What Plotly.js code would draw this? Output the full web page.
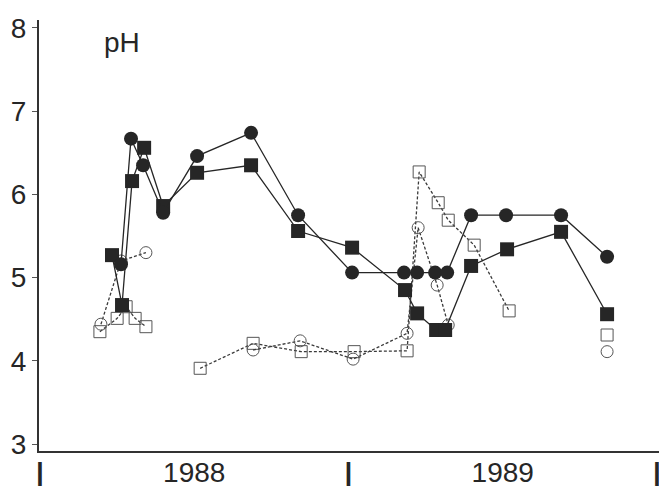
<!DOCTYPE html>
<html>
<head>
<meta charset="utf-8">
<script src="https://cdn.plot.ly/plotly-3.0.1.min.js"></script>
<style>
  html, body { margin: 0; padding: 0; background: #fff; }
  #chart { width: 659px; height: 486px; }
</style>
</head>
<body>
<div id="chart"></div>
<script>
// x = months since 1 Jan 1988
const tickVals = [0, 6, 12, 18, 24];
const tickText = ["<b>|</b>", "1988", "<b>|</b>", "1989", "<b>|</b>"];

// filled circles, solid line
const filledCircleX = [3.15, 3.54, 4.01, 4.79, 6.11, 8.21, 10.04, 12.14, 14.16, 14.67, 15.37, 15.84, 16.77, 18.13, 20.27, 22.06];
const filledCircleY = [5.16, 6.67, 6.35, 5.78, 6.46, 6.74, 5.75, 5.06, 5.06, 5.06, 5.06, 5.06, 5.75, 5.75, 5.75, 5.25];

// filled squares, solid line
const filledSquareX = [2.80, 3.19, 3.58, 4.05, 4.79, 6.11, 8.21, 10.04, 12.14, 14.20, 14.67, 15.41, 15.76, 16.77, 18.17, 20.27, 22.06];
const filledSquareY = [5.27, 4.67, 6.16, 6.56, 5.86, 6.26, 6.35, 5.56, 5.36, 4.85, 4.57, 4.37, 4.37, 5.14, 5.34, 5.55, 4.56];

// open circles, dashed line (null = gap)
const openCircleX = [2.37, 3.15, 4.12, null, 8.29, 10.12, 12.18, 14.28, 14.71, 15.45, 15.88, null, 22.06];
const openCircleY = [4.44, 5.20, 5.30, null, 4.13, 4.24, 4.02, 4.33, 5.60, 4.91, 4.43, null, 4.11];

// open squares, dashed line (null = gap)
const openSquareX = [2.33, 3.00, 3.35, 3.70, 4.12, null, 6.23, 8.29, 10.16, 12.22, 14.28, 14.75, 15.49, 15.88, 16.89, 18.25, null, 22.06];
const openSquareY = [4.35, 4.51, 4.65, 4.51, 4.41, null, 3.91, 4.21, 4.11, 4.11, 4.12, 6.27, 5.90, 5.69, 5.39, 4.60, null, 4.31];

const ink = "#262626";
const dashed = { color: "#3a3a3a", width: 1.3, dash: "3px,2px" };

const traces = [
  {
    x: openSquareX, y: openSquareY, type: "scatter", mode: "lines+markers",
    line: dashed,
    marker: { symbol: "square-open", size: 12, color: "#555", line: { width: 1, color: "#555" } },
    hoverinfo: "skip"
  },
  {
    x: openCircleX, y: openCircleY, type: "scatter", mode: "lines+markers",
    line: dashed,
    marker: { symbol: "circle-open", size: 12, color: "#555", line: { width: 1, color: "#555" } },
    hoverinfo: "skip"
  },
  {
    x: filledSquareX, y: filledSquareY, type: "scatter", mode: "lines+markers",
    line: { color: ink, width: 1.3 },
    marker: { symbol: "square", size: 14, color: ink },
    hoverinfo: "skip"
  },
  {
    x: filledCircleX, y: filledCircleY, type: "scatter", mode: "lines+markers",
    line: { color: ink, width: 1.3 },
    marker: { symbol: "circle", size: 14, color: ink },
    hoverinfo: "skip"
  }
];

const layout = {
  width: 659, height: 486,
  margin: { l: 39, r: 0, t: 20, b: 35, pad: 0 },
  paper_bgcolor: "#fff", plot_bgcolor: "#fff",
  showlegend: false,
  font: { family: "Liberation Sans, Arial, sans-serif", color: ink, size: 28 },
  xaxis: {
    range: [-0.04, 24.08],
    tickmode: "array", tickvals: tickVals, ticktext: tickText,
    ticks: "", showgrid: false, zeroline: false,
    showline: true, linecolor: "#333", linewidth: 2,
    tickfont: { size: 28, color: ink },
    ticklabelstandoff: -5,
    ticklabeloverflow: "allow",
    fixedrange: true
  },
  yaxis: {
    range: [2.916, 8.096],
    tickmode: "array", tickvals: [3, 4, 5, 6, 7, 8],
    ticks: "outside", ticklen: 5, tickwidth: 1, tickcolor: "#555",
    showgrid: false, zeroline: false,
    showline: true, linecolor: "#333", linewidth: 2,
    tickfont: { size: 28, color: ink },
    fixedrange: true
  },
  annotations: [{
    xref: "paper", yref: "paper", x: 0.1016, y: 0.947,
    xanchor: "left", yanchor: "middle", showarrow: false,
    text: "pH", font: { size: 28, color: ink }
  }]
};

Plotly.newPlot("chart", traces, layout, { displayModeBar: false, staticPlot: true });
</script>
</body>
</html>
